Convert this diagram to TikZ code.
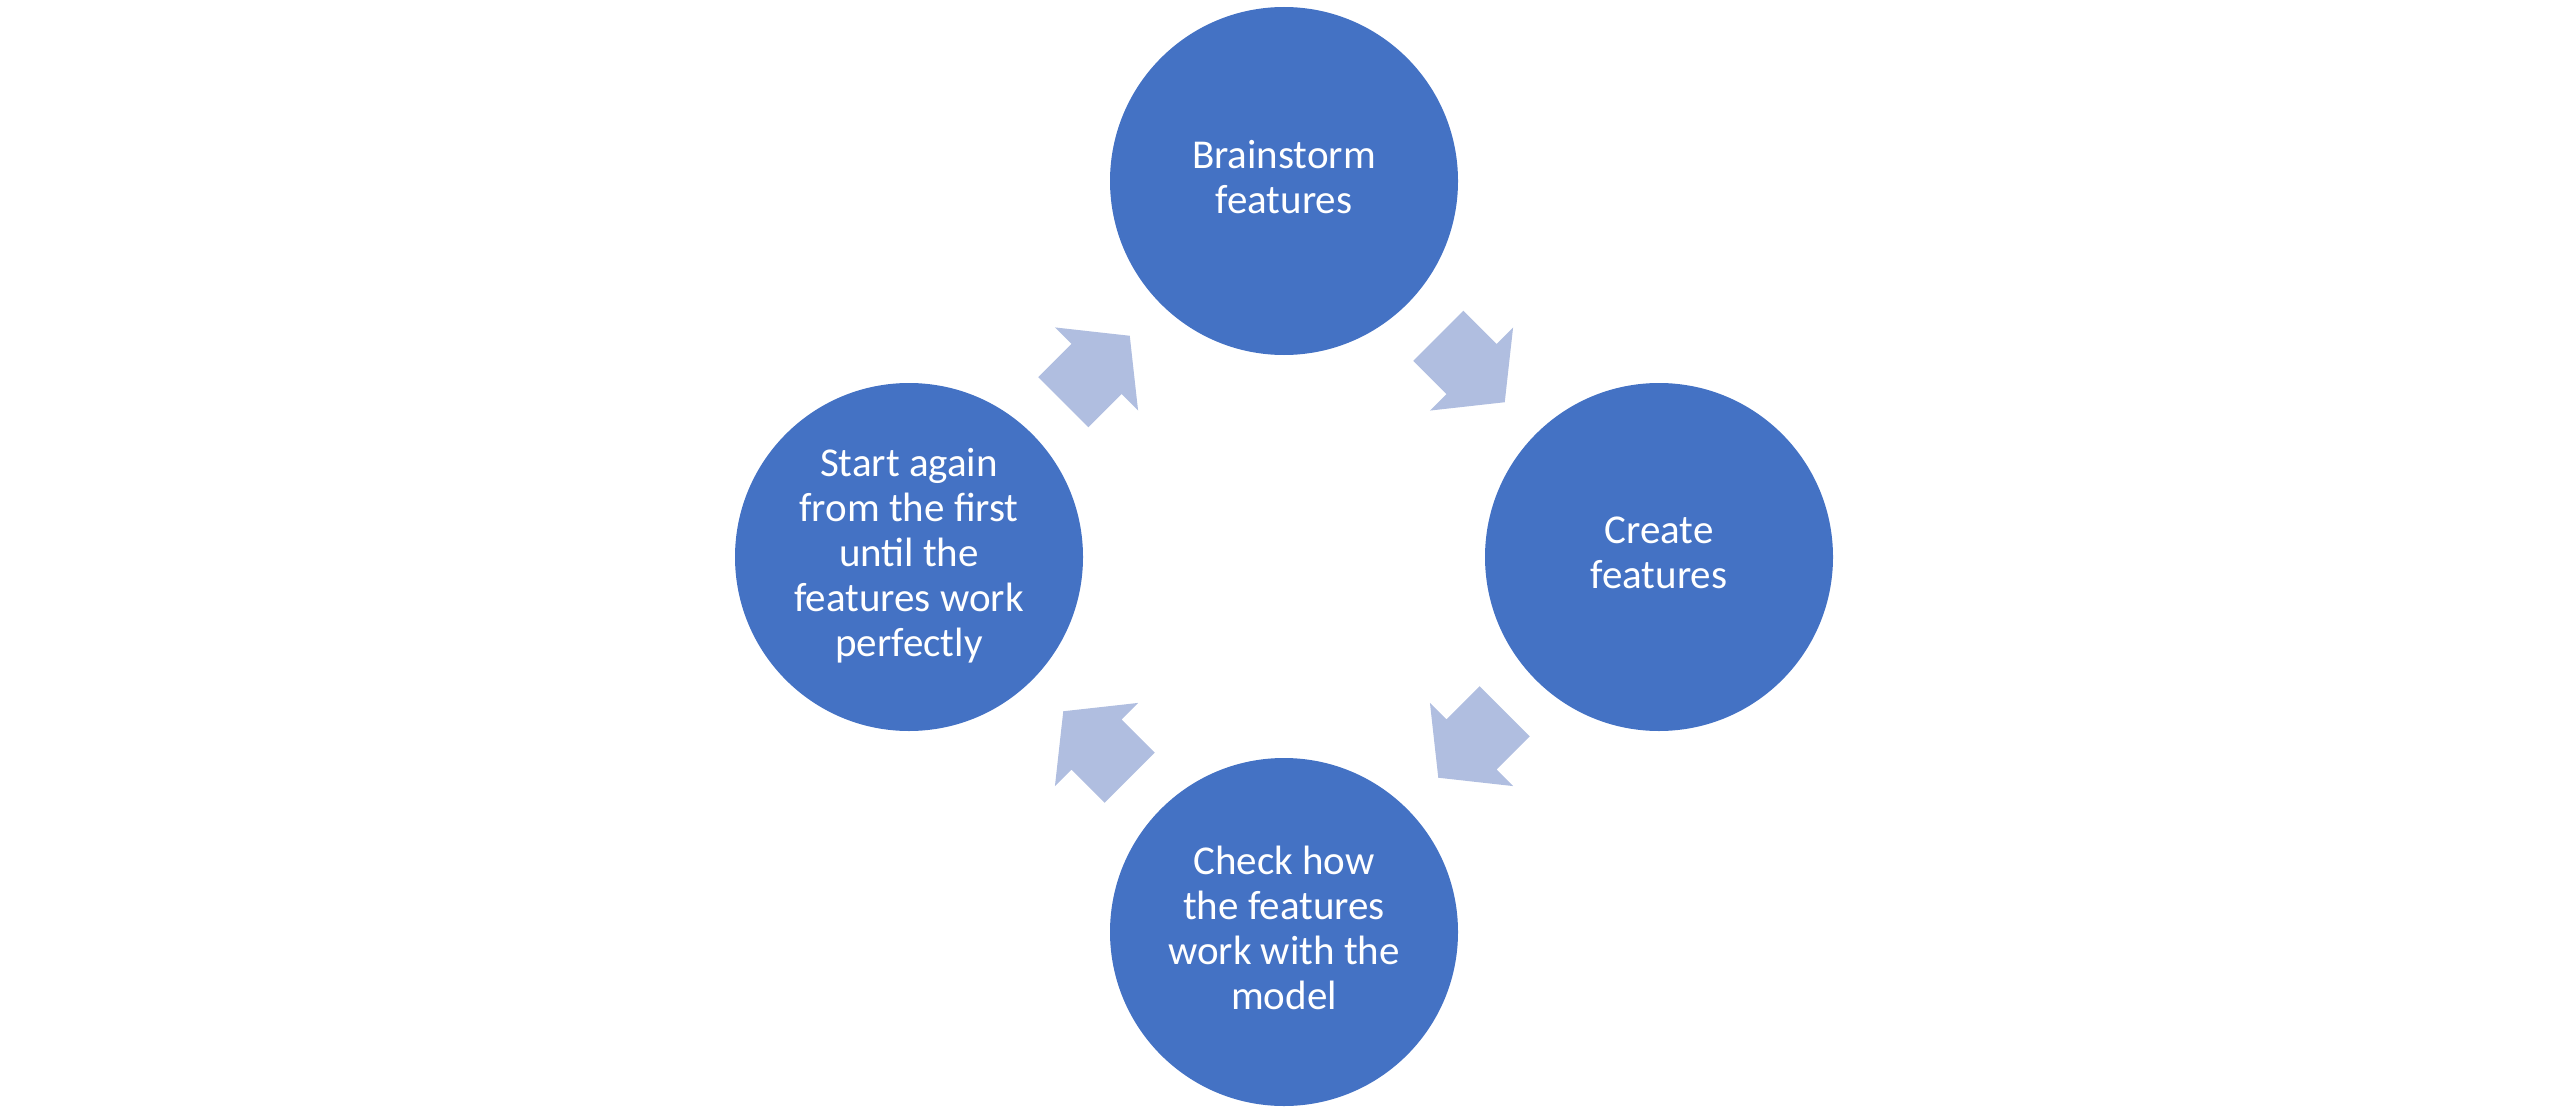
\documentclass[tikz,border=0pt]{standalone}
\usepackage{fontspec}
\setmainfont{Carlito}
\usetikzlibrary{calc}
\definecolor{circblue}{HTML}{4472C4}
\definecolor{arrowblue}{HTML}{B0BEE0}
\begin{document}
\begin{tikzpicture}[x=1pt,y=1pt,
  stage/.style={circle, fill=circblue, draw=none, minimum size=348pt, inner sep=0pt,
    text=white, align=center, font=\fontsize{41}{45}\selectfont, text depth=9pt},
  blockarrow/.pic={\fill[arrowblue] (-47,35.4) -- (0,35.4) -- (0,58.8) -- (47,0)
    -- (0,-58.8) -- (0,-35.4) -- (-47,-35.4) -- cycle;}
]
\useasboundingbox (0,0) rectangle (2571,-1118);
\node[stage] (brain)  at (1284,-181) {Brainstorm\\features};
\node[stage] (create) at (1659,-557) {Create\\features};
\node[stage] (check)  at (1284,-932) {Check how\\the features\\work with the\\model};
\node[stage] (again)  at (909,-557)  {Start again\\from the first\\until the\\features work\\perfectly};
\pic[rotate=-45]  at ($(brain)!0.5!(create)$) {blockarrow};
\pic[rotate=-135] at ($(create)!0.5!(check)$) {blockarrow};
\pic[rotate=135]  at ($(check)!0.5!(again)$)  {blockarrow};
\pic[rotate=45]   at ($(again)!0.5!(brain)$)  {blockarrow};
\end{tikzpicture}
\end{document}
